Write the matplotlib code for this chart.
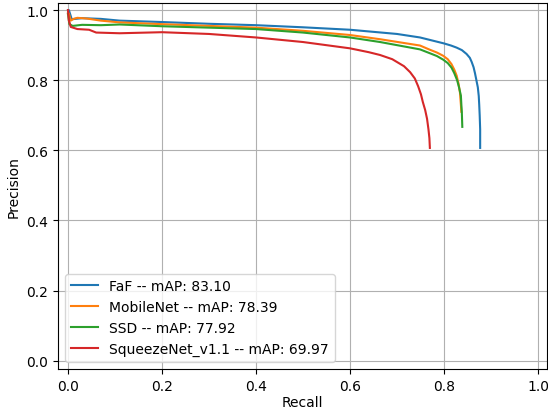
import matplotlib
matplotlib.use('Agg')
import matplotlib.pyplot as plt

# кривые precision-recall
faf_recall = [0.0, 0.002, 0.008, 0.03, 0.07, 0.11, 0.2, 0.3, 0.4, 0.5, 0.6, 0.7, 0.749,
              0.77, 0.8, 0.815, 0.827, 0.838, 0.848, 0.855, 0.859, 0.863, 0.866, 0.869,
              0.872, 0.874, 0.875, 0.876, 0.877, 0.877]
faf_prec = [1.0, 1.0, 0.974, 0.977, 0.975, 0.970, 0.966, 0.961, 0.957, 0.951, 0.944, 0.932, 0.922,
            0.915, 0.905, 0.899, 0.893, 0.886, 0.875, 0.864, 0.852, 0.837, 0.82, 0.80,
            0.78, 0.755, 0.73, 0.70, 0.66, 0.607]

mob_recall = [0.0, 0.002, 0.006, 0.012, 0.02, 0.04, 0.07, 0.11, 0.2, 0.3, 0.4, 0.5, 0.6,
              0.664, 0.749, 0.77, 0.785, 0.798, 0.808, 0.816, 0.822, 0.827, 0.831, 0.834,
              0.836, 0.837]
mob_prec = [0.99, 0.99, 0.97, 0.975, 0.978, 0.976, 0.970, 0.965, 0.960, 0.955, 0.950, 0.941, 0.929,
            0.917, 0.899, 0.887, 0.879, 0.870, 0.860, 0.846, 0.83, 0.813, 0.79, 0.765,
            0.73, 0.71]

ssd_recall = [0.0, 0.003, 0.01, 0.03, 0.07, 0.11, 0.2, 0.3, 0.4, 0.5, 0.6, 0.664, 0.749,
              0.77, 0.785, 0.798, 0.808, 0.816, 0.822, 0.828, 0.832, 0.836, 0.837, 0.838, 0.839]
ssd_prec = [0.99, 0.96, 0.955, 0.958, 0.957, 0.959, 0.954, 0.950, 0.946, 0.936, 0.922, 0.909, 0.888,
            0.877, 0.869, 0.859, 0.849, 0.836, 0.82, 0.80, 0.78, 0.756, 0.73, 0.709, 0.667]

sq_recall = [0.0, 0.002, 0.006, 0.02, 0.045, 0.06, 0.11, 0.2, 0.3, 0.4, 0.5, 0.6, 0.64, 0.664,
             0.69, 0.70, 0.715, 0.728, 0.738, 0.745, 0.751, 0.755, 0.760, 0.764, 0.767,
             0.769, 0.770]
sq_prec = [1.0, 0.97, 0.952, 0.946, 0.944, 0.936, 0.934, 0.937, 0.932, 0.922, 0.909, 0.891, 0.88, 0.872,
           0.86, 0.852, 0.84, 0.823, 0.805, 0.783, 0.76, 0.738, 0.715, 0.69, 0.66,
           0.635, 0.607]

labels = ['FaF -- mAP: 83.10', 'MobileNet -- mAP: 78.39',
          'SSD -- mAP: 77.92', 'SqueezeNet_v1.1 -- mAP: 69.97']

fig = plt.figure(figsize=(5.48, 4.10), dpi=100)
fig.subplots_adjust(left=0.106, right=0.998, bottom=0.098, top=0.990)
ax = plt.gca()

plt.plot(faf_recall, faf_prec, label=labels[0])
plt.plot(mob_recall, mob_prec, label=labels[1])
plt.plot(ssd_recall, ssd_prec, label=labels[2])
plt.plot(sq_recall, sq_prec, label=labels[3])

ax.set_xlim(-0.021, 1.019)
ax.set_ylim(-0.023, 1.02)
plt.grid(True)
plt.xlabel('Recall', labelpad=1.5)
plt.ylabel('Precision')
plt.legend(loc='lower left')

plt.savefig('out.png')
